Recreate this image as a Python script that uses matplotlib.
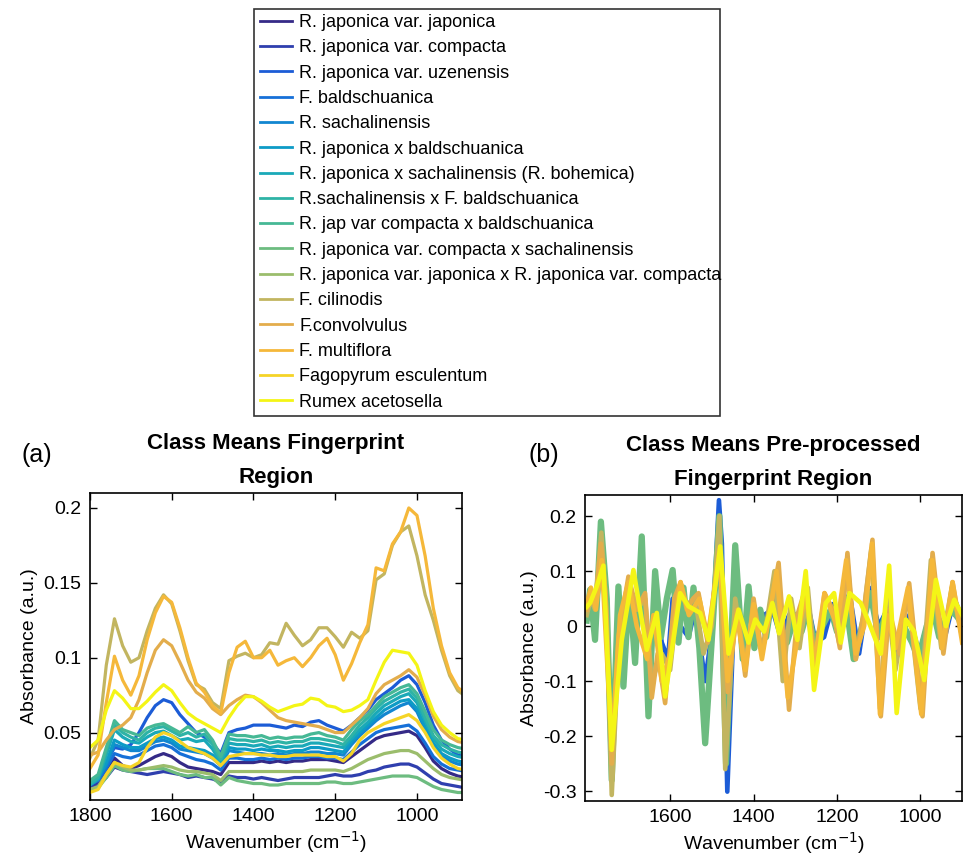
import numpy as np
import matplotlib
matplotlib.use('Agg')
import matplotlib.pyplot as plt

plt.rcParams['font.family'] = ['Liberation Sans', 'DejaVu Sans']

names = ['R. japonica var. japonica', 'R. japonica var. compacta', 'R. japonica var. uzenensis',
         'F. baldschuanica', 'R. sachalinensis', 'R. japonica x baldschuanica',
         'R. japonica x sachalinensis (R. bohemica)', 'R.sachalinensis x F. baldschuanica',
         'R. jap var compacta x baldschuanica', 'R. japonica var. compacta x sachalinensis',
         'R. japonica var. japonica x R. japonica var. compacta', 'F. cilinodis',
         'F.convolvulus', 'F. multiflora', 'Fagopyrum esculentum', 'Rumex acetosella']

# parula-like class colours
colors = ['#352a87', '#2f3fae', '#1c5cd6', '#1670d8', '#1286d0', '#0d9bc6', '#1aa9b8', '#2eb3a6',
          '#46b895', '#6dbc80', '#9bbd6c', '#c2b560', '#e3ad4c', '#f5b83a', '#f5d427', '#f4f516']

# (a) class means, raw fingerprint region, sampled every 20 cm-1
wn_a = list(range(1800, 879, -20))
mean_a = [
    # 0 R. japonica var. japonica
    [.014, .017, .025, .033, .028, .026, .028, .031, .034, .036, .034, .030, .027, .026, .025, .024,
     .022, .030, .030, .030, .030, .031, .030, .031, .030, .031, .031, .032, .032, .032, .031, .030,
     .034, .038, .042, .046, .048, .049, .050, .051, .048, .040, .031, .026, .023, .021, .020],
    # 1 R. japonica var. compacta
    [.013, .015, .020, .027, .025, .024, .023, .022, .023, .024, .023, .022, .020, .021, .020, .019,
     .017, .021, .020, .020, .019, .020, .019, .018, .019, .020, .020, .020, .020, .021, .022, .021,
     .021, .022, .024, .025, .027, .028, .029, .029, .027, .023, .019, .016, .015, .014, .013],
    # 2 R. japonica var. uzenensis
    [.017, .020, .030, .040, .039, .042, .050, .060, .068, .072, .070, .062, .056, .050, .047, .043,
     .036, .050, .052, .053, .055, .055, .055, .054, .053, .055, .054, .057, .058, .055, .053, .051,
     .055, .060, .065, .072, .076, .080, .085, .088, .082, .070, .055, .045, .039, .035, .034],
    # 3 F. baldschuanica
    [.015, .018, .026, .036, .034, .033, .035, .038, .041, .042, .040, .036, .034, .032, .031, .029,
     .025, .033, .033, .032, .032, .033, .032, .033, .032, .033, .033, .034, .034, .033, .033, .032,
     .037, .042, .046, .050, .052, .053, .054, .055, .051, .043, .034, .029, .026, .025, .024],
    # 4 R. sachalinensis
    [.017, .020, .028, .042, .040, .038, .038, .041, .044, .045, .043, .039, .038, .037, .036, .033,
     .028, .038, .037, .036, .036, .036, .035, .036, .035, .036, .036, .037, .037, .036, .036, .035,
     .042, .048, .053, .058, .062, .065, .068, .070, .064, .052, .041, .034, .031, .029, .028],
    # 5 R. japonica x baldschuanica
    [.016, .019, .030, .045, .042, .040, .040, .043, .046, .047, .045, .041, .040, .039, .038, .035,
     .029, .040, .039, .039, .038, .039, .038, .038, .037, .038, .038, .040, .040, .039, .038, .037,
     .044, .050, .055, .060, .065, .068, .071, .072, .066, .054, .043, .036, .033, .031, .030],
    # 6 R. bohemica
    [.015, .019, .035, .052, .047, .044, .043, .047, .050, .051, .048, .045, .046, .044, .045, .039,
     .030, .043, .042, .042, .041, .042, .040, .041, .040, .041, .041, .043, .043, .042, .041, .040,
     .046, .052, .057, .063, .068, .071, .074, .076, .070, .058, .046, .039, .036, .034, .033],
    # 7 R.sachalinensis x F. baldschuanica
    [.016, .020, .038, .055, .050, .047, .045, .050, .053, .054, .051, .048, .050, .047, .049, .042,
     .032, .046, .045, .045, .044, .045, .043, .044, .043, .044, .044, .046, .046, .045, .044, .042,
     .048, .055, .060, .066, .071, .074, .077, .079, .073, .060, .048, .042, .039, .037, .036],
    # 8 R. jap var compacta x baldschuanica
    [.018, .022, .040, .058, .052, .050, .048, .053, .055, .056, .053, .050, .054, .050, .052, .045,
     .034, .049, .048, .048, .047, .048, .046, .047, .046, .047, .047, .049, .050, .048, .047, .045,
     .052, .058, .062, .068, .074, .077, .080, .082, .076, .064, .052, .045, .042, .040, .039],
    # 9 R. japonica var. compacta x sachalinensis
    [.012, .013, .020, .028, .025, .024, .025, .026, .026, .026, .024, .022, .021, .022, .020, .020,
     .015, .020, .018, .017, .016, .016, .015, .015, .016, .016, .016, .016, .016, .017, .017, .016,
     .016, .017, .018, .019, .020, .021, .021, .021, .020, .017, .014, .012, .011, .010, .010],
    # 10 R. japonica var. japonica x R. japonica var. compacta
    [.012, .014, .022, .030, .027, .025, .025, .026, .027, .028, .027, .025, .024, .024, .023, .022,
     .018, .024, .024, .024, .024, .024, .024, .024, .024, .024, .024, .025, .025, .025, .025, .024,
     .026, .029, .032, .034, .036, .037, .038, .038, .036, .031, .026, .022, .020, .019, .018],
    # 11 F. cilinodis
    [.033, .045, .095, .126, .108, .097, .100, .118, .133, .142, .136, .118, .098, .082, .079, .070,
     .066, .098, .101, .103, .100, .102, .110, .109, .123, .115, .108, .112, .120, .120, .114, .107,
     .117, .113, .118, .152, .156, .175, .184, .188, .168, .142, .125, .105, .088, .078, .074],
    # 12 F.convolvulus
    [.035, .037, .045, .052, .055, .060, .072, .090, .105, .112, .108, .097, .085, .077, .073, .066,
     .062, .068, .072, .075, .074, .070, .065, .060, .058, .057, .056, .055, .054, .052, .050, .050,
     .055, .060, .066, .076, .082, .085, .088, .092, .087, .075, .061, .052, .047, .044, .043],
    # 13 F. multiflora
    [.026, .035, .070, .101, .085, .075, .088, .112, .130, .141, .137, .120, .100, .083, .077, .068,
     .063, .090, .107, .111, .100, .100, .105, .095, .098, .100, .094, .100, .108, .113, .102, .085,
     .096, .110, .122, .160, .158, .176, .184, .200, .195, .168, .133, .108, .090, .080, .076],
    # 14 Fagopyrum esculentum
    [.010, .012, .022, .030, .028, .027, .030, .040, .047, .050, .048, .044, .040, .038, .036, .033,
     .028, .034, .035, .036, .036, .035, .035, .034, .034, .035, .035, .035, .035, .034, .034, .031,
     .036, .045, .050, .053, .056, .058, .060, .062, .058, .050, .040, .033, .029, .026, .025],
    # 15 Rumex acetosella
    [.040, .045, .065, .078, .073, .066, .066, .071, .077, .082, .078, .070, .063, .059, .056, .053,
     .050, .060, .068, .074, .074, .071, .067, .064, .066, .068, .069, .073, .072, .068, .067, .064,
     .065, .068, .072, .085, .097, .105, .104, .103, .095, .078, .064, .055, .050, .046, .045],
]

# (b) pre-processed class means: turning points
pp_classes = [2, 9, 11, 12, 13, 15]
pp_wn = [
    [1800, 1790, 1780, 1765, 1752, 1740, 1724, 1712, 1698, 1684, 1668, 1652, 1636, 1620, 1605, 1594,
     1575, 1556, 1540, 1516, 1498, 1483, 1476, 1463, 1444, 1426, 1412, 1395, 1375, 1355, 1335, 1315,
     1290, 1270, 1251, 1231, 1210, 1190, 1170, 1147, 1123, 1100, 1080, 1055, 1027, 1003, 985, 967,
     939, 919, 900],
    [1800, 1792, 1780, 1766, 1752, 1740, 1724, 1712, 1698, 1684, 1668, 1652, 1636, 1622, 1608, 1594,
     1580, 1568, 1556, 1544, 1530, 1516, 1498, 1482, 1466, 1444, 1426, 1412, 1398, 1384, 1370, 1356,
     1340, 1320, 1300, 1285, 1270, 1255, 1235, 1215, 1200, 1180, 1160, 1140, 1120, 1100, 1080, 1060,
     1040, 1020, 1005, 985, 970, 955, 930, 915, 900],
    [1800, 1790, 1780, 1765, 1752, 1740, 1724, 1700, 1680, 1660, 1644, 1620, 1600, 1580, 1560, 1540,
     1520, 1500, 1482, 1468, 1444, 1420, 1400, 1380, 1350, 1330, 1310, 1290, 1270, 1252, 1230, 1210,
     1195, 1175, 1155, 1140, 1118, 1097, 1080, 1060, 1030, 1000, 975, 950, 925, 900],
    [1800, 1790, 1780, 1766, 1755, 1740, 1724, 1700, 1680, 1660, 1644, 1630, 1612, 1590, 1575, 1560,
     1545, 1532, 1510, 1482, 1462, 1440, 1420, 1400, 1380, 1362, 1340, 1315, 1295, 1275, 1252, 1230,
     1210, 1193, 1175, 1155, 1135, 1115, 1095, 1075, 1050, 1027, 995, 971, 945, 923, 900],
    [1800, 1790, 1778, 1764, 1740, 1720, 1700, 1680, 1655, 1640, 1620, 1600, 1575, 1555, 1530, 1510,
     1482, 1462, 1440, 1420, 1400, 1380, 1345, 1318, 1290, 1275, 1255, 1230, 1200, 1178, 1155, 1135,
     1116, 1097, 1080, 1060, 1030, 998, 972, 948, 923, 900],
    [1800, 1792, 1776, 1760, 1740, 1716, 1688, 1656, 1632, 1612, 1576, 1556, 1528, 1508, 1480, 1460,
     1436, 1412, 1396, 1375, 1355, 1339, 1315, 1295, 1275, 1255, 1227, 1207, 1191, 1170, 1143, 1120,
     1095, 1075, 1057, 1035, 1015, 991, 963, 939, 919, 900],
]
pp_val = [
    [0.01, 0.05, -0.02, 0.16, 0.05, -0.24, 0.04, -0.06, 0.04, -0.03, 0.08, -0.08, 0.05, -0.03, -0.06,
     0.05, 0.0, -0.02, 0.03, -0.1, 0.0, 0.229, 0.15, -0.301, 0.08, -0.04, 0.04, -0.03, 0.02, 0.03,
     -0.02, 0.02, -0.01, 0.04, -0.03, -0.02, 0.04, 0.02, 0.06, -0.05, 0.07, 0.0, 0.03, -0.05, 0.02,
     -0.05, 0.0, 0.03, -0.013, 0.05, 0.015],
    [0.01, 0.066, -0.025, 0.19, 0.05, -0.28, 0.072, -0.11, 0.075, -0.067, 0.163, -0.164, 0.1, -0.02,
     0.05, 0.102, -0.03, 0.07, -0.02, 0.07, -0.04, -0.213, 0.0, 0.2, -0.25, 0.147, -0.06, 0.072,
     -0.04, 0.03, -0.02, 0.05, 0.01, -0.03, 0.02, -0.01, 0.03, -0.03, 0.0, 0.03, -0.01, 0.05, -0.06,
     0.0, 0.06, -0.02, 0.03, -0.03, 0.0, -0.03, -0.06, 0.0, 0.03, -0.02, 0.03, 0.02, 0.005],
    [0.02, 0.05, 0.03, 0.17, 0.02, -0.307, -0.05, 0.08, 0.03, 0.05, -0.1, -0.05, -0.08, 0.06, 0.04,
     0.05, -0.05, 0.0, 0.2, -0.26, 0.05, -0.07, 0.03, -0.05, 0.1, -0.1, 0.05, -0.04, 0.07, -0.08,
     0.05, 0.03, -0.03, 0.12, -0.06, 0.0, 0.14, -0.15, 0.05, -0.08, 0.06, -0.15, 0.12, -0.04, 0.07,
     -0.02],
    [0.03, 0.06, 0.04, 0.15, 0.06, -0.25, -0.02, 0.09, 0.03, 0.06, -0.13, -0.05, -0.14, 0.05, 0.08,
     0.03, 0.05, 0.06, -0.03, 0.14, -0.12, 0.03, -0.09, 0.05, -0.05, 0.02, 0.115, -0.152, 0.02, 0.07,
     -0.08, 0.06, 0.03, -0.04, 0.133, -0.06, 0.03, 0.157, -0.164, 0.03, -0.05, 0.078, -0.164, 0.133,
     -0.05, 0.08, -0.02],
    [0.04, 0.07, 0.03, 0.12, -0.22, 0.02, 0.08, 0.0, -0.06, 0.02, -0.1, -0.05, 0.08, 0.02, 0.05,
     -0.02, 0.13, -0.1, 0.02, -0.08, 0.04, -0.06, 0.1, -0.13, 0.0, 0.06, -0.07, 0.06, 0.0, 0.12,
     -0.05, 0.0, 0.15, -0.16, 0.02, -0.04, 0.07, -0.16, 0.12, -0.04, 0.08, -0.03],
    [0.035, 0.042, 0.072, 0.11, -0.225, -0.025, 0.102, -0.043, 0.024, -0.128, 0.06, 0.036, 0.024,
     -0.025, 0.145, -0.05, 0.03, -0.03, 0.012, -0.01, 0.042, -0.013, 0.054, -0.025, 0.1, -0.116,
     0.042, 0.06, -0.03, 0.06, 0.042, 0.0, -0.05, 0.11, -0.158, 0.012, -0.01, -0.098, 0.084, 0.0,
     0.048, 0.02],
]

xt_a = [1800, 1600, 1400, 1200, 1000]
xt_b = [1600, 1400, 1200, 1000]
yt_a = [0.05, 0.1, 0.15, 0.2]
ytl_a = ['0.05', '0.1', '0.15', '0.2']
yt_b = [-0.3, -0.2, -0.1, 0, 0.1, 0.2]
ytl_b = ['-0.3', '-0.2', '-0.1', '0', '0.1', '0.2']

fig = plt.figure(figsize=(9.67, 8.59), dpi=100)
ax1 = fig.add_axes([0.093, 0.0687, 0.3847, 0.3574])
ax2 = fig.add_axes([0.605, 0.0675, 0.390, 0.356])

handles = []
for i in range(16):
    h, = ax1.plot(wn_a, mean_a[i], color=colors[i], lw=2.3, label=names[i])
    handles.append(h)

for k, ci in enumerate(pp_classes):
    lw = 4.5 if ci == 9 else 3.3
    ax2.plot(pp_wn[k], pp_val[k], color=colors[ci], lw=lw, solid_joinstyle='round')

ax1.set_xlim(1800, 890)
ax1.set_ylim(0.005, 0.21)
ax1.set_xticks(xt_a)
ax1.set_yticks(yt_a)
ax1.set_yticklabels(ytl_a)
ax2.set_xlim(1804, 900)
ax2.set_ylim(-0.318, 0.238)
ax2.set_xticks(xt_b)
ax2.set_yticks(yt_b)
ax2.set_yticklabels(ytl_b)

for ax in (ax1, ax2):
    ax.tick_params(direction='in', top=True, right=True, labelsize=14, length=5, width=1, pad=6)
    for s in ax.spines.values():
        s.set_linewidth(1.2)
    ax.set_xlabel('Wavenumber (cm$^{-1}$)', fontsize=14, labelpad=3)
    ax.set_ylabel('Absorbance (a.u.)', fontsize=14, labelpad=4)

ax1.set_title('Class Means Fingerprint\nRegion', fontsize=16, fontweight='bold', pad=7,
              linespacing=1.85)
ax2.set_title('Class Means Pre-processed\nFingerprint Region', fontsize=16, fontweight='bold', pad=7,
              linespacing=1.85)
fig.text(0.038, 0.47, '(a)', fontsize=18, ha='center', va='center')
fig.text(0.562, 0.47, '(b)', fontsize=18, ha='center', va='center')

leg = fig.legend(handles=handles, loc='upper left', bbox_to_anchor=(0.263, 0.519, 0.482, 0.471),
                 mode='expand', fontsize=13, frameon=True, fancybox=False, borderpad=0.3,
                 labelspacing=0.46, handlelength=1.8, handletextpad=0.4, borderaxespad=0)
leg.get_frame().set_edgecolor('black')
leg.get_frame().set_linewidth(1.2)
for ln in leg.get_lines():
    ln.set_linewidth(2.0)

fig.savefig('out.png', dpi=100)
